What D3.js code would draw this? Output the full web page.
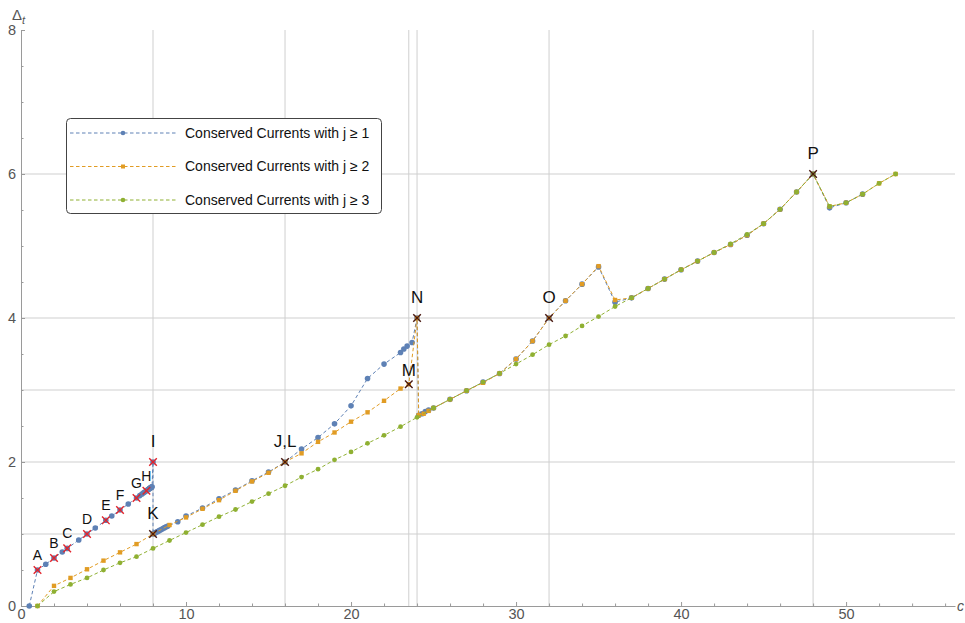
<!DOCTYPE html>
<html>
<head>
<meta charset="utf-8">
<script src="https://cdn.jsdelivr.net/npm/d3@7"></script>
<style>
  body { margin: 0; background: #fff; }
  svg { display: block; font-family: "Liberation Sans", Arial, sans-serif; }
</style>
</head>
<body>
<svg id="chart"></svg>
<script>
// Conserved currents with j >= 1 (blue)
const currentsJ1 = [
  [0.5, 0], [1, 0.5], [1.5, 0.58], [2, 0.667], [2.5, 0.75], [2.8, 0.8], [3.5, 0.917],
  [4, 1], [4.5, 1.083], [5.14, 1.19], [5.5, 1.25], [6, 1.333], [6.5, 1.417], [7, 1.5],
  [7.2, 1.533], [7.33, 1.555], [7.43, 1.572], [7.5, 1.583], [7.6, 1.6], [7.64, 1.607],
  [7.67, 1.612], [7.71, 1.618], [7.75, 1.625], [7.78, 1.63], [7.8, 1.633], [7.83, 1.638],
  [7.86, 1.643], [7.88, 1.647], [7.9, 1.65], [7.92, 1.653], [7.94, 1.657], [8, 2], [8, 1],
  [8.06, 1.008], [8.12, 1.015], [8.18, 1.023], [8.25, 1.031], [8.33, 1.041], [8.4, 1.05],
  [8.5, 1.063], [8.6, 1.075], [8.7, 1.088], [8.8, 1.1], [8.9, 1.11], [9.5, 1.17], [10, 1.25],
  [11, 1.36], [12, 1.49], [13, 1.61], [14, 1.74], [15, 1.86], [16, 2], [17, 2.18], [18, 2.34],
  [19, 2.53], [20, 2.78], [21, 3.16], [22, 3.36], [23, 3.52], [23.2, 3.57], [23.4, 3.61],
  [23.7, 3.66], [24, 4], [24.1, 2.65], [24.3, 2.67], [24.5, 2.7], [24.7, 2.72], [25, 2.75],
  [26, 2.87], [27, 2.99], [28, 3.11], [29, 3.23], [30, 3.43], [31, 3.68], [32, 4], [33, 4.24],
  [34, 4.47], [35, 4.71], [36, 4.22], [37, 4.28], [38, 4.41], [39, 4.54], [40, 4.67],
  [41, 4.79], [42, 4.91], [43, 5.02], [44, 5.15], [45, 5.31], [46, 5.51], [47, 5.75],
  [48, 6], [49, 5.53], [50, 5.6], [51, 5.72]
];

// Conserved currents with j >= 2 (orange)
const currentsJ2 = [
  [1, 0], [2, 0.28], [3, 0.39], [4, 0.51], [5, 0.63], [6, 0.745], [7, 0.86], [8, 1],
  [9, 1.125], [10, 1.23], [11, 1.35], [12, 1.47], [13, 1.6], [14, 1.73], [15, 1.85], [16, 2],
  [17, 2.12], [18, 2.28], [19, 2.41], [20, 2.56], [21, 2.69], [22, 2.85], [23, 3.02],
  [23.5, 3.08], [24, 4], [24.1, 2.65], [24.4, 2.67], [24.7, 2.71], [25, 2.75], [26, 2.87],
  [27, 2.99], [28, 3.1], [29, 3.23], [30, 3.43], [31, 3.68], [32, 4], [33, 4.24], [34, 4.47],
  [35, 4.72], [36, 4.25], [37, 4.28], [38, 4.41], [39, 4.54], [40, 4.67], [41, 4.79],
  [42, 4.91], [43, 5.02], [44, 5.15], [45, 5.31], [46, 5.51], [47, 5.75], [48, 6],
  [49, 5.55], [50, 5.6], [51, 5.72], [52, 5.87], [53, 6]
];

// Conserved currents with j >= 3 (green)
const currentsJ3 = [
  [1, 0], [2, 0.2], [3, 0.3], [4, 0.39], [5, 0.5], [6, 0.6], [7, 0.685], [8, 0.8], [9, 0.91],
  [10, 1.02], [11, 1.13], [12, 1.24], [13, 1.34], [14, 1.45], [15, 1.56], [16, 1.67],
  [17, 1.79], [18, 1.9], [19, 2.03], [20, 2.14], [21, 2.26], [22, 2.37], [23, 2.49],
  [24, 2.62], [25, 2.75], [26, 2.87], [27, 2.99], [28, 3.11], [29, 3.23], [30, 3.36],
  [31, 3.49], [32, 3.63], [33, 3.75], [34, 3.89], [35, 4.02], [36, 4.16], [37, 4.28],
  [38, 4.41], [39, 4.54], [40, 4.67], [41, 4.79], [42, 4.91], [43, 5.03], [44, 5.16],
  [45, 5.31], [46, 5.51], [47, 5.75], [48, 6], [49, 5.55], [50, 5.6], [51, 5.72],
  [52, 5.87], [53, 6]
];

const seriesNames = ["Conserved Currents with j \u2265 1", "Conserved Currents with j \u2265 2", "Conserved Currents with j \u2265 3"];

// labelled points
const labelNames = ["A", "B", "C", "D", "E", "F", "G", "H", "I", "K", "J,L", "M", "N", "O", "P"];
const labelX = [1, 2, 2.8, 4, 5.14, 6, 7, 7.6, 8, 8, 16, 23.5, 24, 32, 48];
const labelY = [0.5, 0.667, 0.8, 1, 1.19, 1.333, 1.5, 1.6, 2, 1, 2, 3.08, 4, 4, 6];

const gridX = [8, 16, 23.5, 24, 32, 48];
const gridY = [1, 2, 3, 4, 6];
const xMajor = [0, 10, 20, 30, 40, 50];
const yMajor = [0, 2, 4, 6, 8];

// layout
const width = 965, height = 623;
const colors = ["#5e81b5", "#e19c24", "#8fb032"];
const smallLabels = new Set(["A", "B", "C", "D", "E", "F", "G", "H"]);

const svg = d3.select("#chart").attr("width", width).attr("height", height);

const x = d3.scaleLinear([0, 56.6], [21, 955]);
const y = d3.scaleLinear([0, 8], [606, 30]);

// grid lines
svg.append("g").selectAll("line").data(gridX).join("line")
    .attr("x1", d => x(d)).attr("x2", d => x(d))
    .attr("y1", y(0)).attr("y2", y(8))
    .attr("stroke", "#cfcfcf").attr("stroke-width", 1);
svg.append("g").selectAll("line").data(gridY).join("line")
    .attr("x1", x(0)).attr("x2", x.range()[1])
    .attr("y1", d => y(d)).attr("y2", d => y(d))
    .attr("stroke", "#cfcfcf").attr("stroke-width", 1);

// axes
const axisColor = "#9a9a9a";
svg.append("g").attr("transform", `translate(0,${y(0)})`)
    .call(d3.axisBottom(x).tickValues(xMajor).tickSizeInner(-4).tickSizeOuter(0).tickPadding(3));
svg.append("g").attr("transform", `translate(0,${y(0)})`)
    .call(d3.axisBottom(x).tickValues(d3.range(2, 57, 2).filter(v => v % 10)).tickSizeInner(-2.5).tickSizeOuter(0).tickFormat(""))
    .call(g => g.select(".domain").remove());
svg.append("g").attr("transform", `translate(${x(0)},0)`)
    .call(d3.axisLeft(y).tickValues(yMajor).tickSizeInner(-4).tickSizeOuter(0).tickPadding(5));
svg.append("g").attr("transform", `translate(${x(0)},0)`)
    .call(d3.axisLeft(y).tickValues(d3.range(0.5, 8, 0.5).filter(v => v % 2)).tickSizeInner(-2.5).tickSizeOuter(0).tickFormat(""))
    .call(g => g.select(".domain").remove());

svg.selectAll(".domain, .tick line").attr("stroke", axisColor);
svg.selectAll(".tick text").attr("fill", "#555").attr("font-size", 14.5)
    .attr("font-family", "'Liberation Sans', Arial, sans-serif");

// axis labels
const tlab = svg.append("text").attr("x", 12).attr("y", 20).attr("font-size", 15).attr("fill", "#555");
tlab.append("tspan").text("\u0394");
tlab.append("tspan").attr("font-style", "italic").attr("font-size", 11).attr("dy", 4).text("t");
svg.append("text").attr("x", 957).attr("y", y(0) + 5).attr("font-size", 14).attr("fill", "#555")
    .attr("font-style", "italic").text("c");

// series lines + markers
const line = d3.line().x(d => x(d[0])).y(d => y(d[1]));
const allSeries = [currentsJ1, currentsJ2, currentsJ3];

allSeries.forEach((data, i) => {
  const g = svg.append("g");
  g.append("path").datum(data)
      .attr("d", line)
      .attr("fill", "none")
      .attr("stroke", colors[i])
      .attr("stroke-width", 1)
      .attr("stroke-dasharray", "3.5,2.5");
  drawMarkers(g, data, i);
});

function drawMarkers(g, data, i) {
  if (i === 0) {
    g.selectAll("circle").data(data).join("circle")
        .attr("cx", d => x(d[0])).attr("cy", d => y(d[1])).attr("r", 2.8)
        .attr("fill", colors[0]);
  } else if (i === 1) {
    g.selectAll("rect").data(data).join("rect")
        .attr("x", d => x(d[0]) - 2.2).attr("y", d => y(d[1]) - 2.2)
        .attr("width", 4.4).attr("height", 4.4)
        .attr("fill", colors[1]);
  } else {
    g.selectAll("circle").data(data).join("circle")
        .attr("cx", d => x(d[0])).attr("cy", d => y(d[1])).attr("r", 2.4)
        .attr("fill", colors[2]);
  }
}

// crosses and labels
const marks = labelNames.map((name, i) => ({name, x: labelX[i], y: labelY[i]}));
const crossSize = 3.8;
const crossG = svg.append("g");
marks.forEach(m => {
  const cx = x(m.x), cy = y(m.y);
  const red = smallLabels.has(m.name) || m.name === "I";
  crossG.append("path")
      .attr("d", `M${cx - crossSize},${cy - crossSize}L${cx + crossSize},${cy + crossSize}M${cx - crossSize},${cy + crossSize}L${cx + crossSize},${cy - crossSize}`)
      .attr("stroke", red ? "#e3242b" : "#4a1a12")
      .attr("stroke-width", 1.4)
      .attr("fill", "none");
  const small = smallLabels.has(m.name);
  const dy = small ? -15 : (m.name === "M" ? -14 : -21);
  crossG.append("text")
      .attr("x", cx).attr("y", cy + dy)
      .attr("dy", "0.35em")
      .attr("text-anchor", "middle")
      .attr("font-size", small ? 14 : 17)
      .attr("fill", "#111")
      .text(m.name);
});

// legend
const legend = svg.append("g");
legend.append("rect")
    .attr("x", 66.5).attr("y", 118.5).attr("width", 315).attr("height", 95)
    .attr("rx", 4).attr("fill", "#fff").attr("stroke", "#444").attr("stroke-width", 1);
seriesNames.forEach((name, i) => {
  const ly = 133 + i * 33.5;
  legend.append("line")
      .attr("x1", 70).attr("x2", 176).attr("y1", ly).attr("y2", ly)
      .attr("stroke", colors[i]).attr("stroke-width", 1).attr("stroke-dasharray", "3.5,2.5");
  if (i === 1) {
    legend.append("rect").attr("x", 121).attr("y", ly - 2).attr("width", 4).attr("height", 4).attr("fill", colors[i]);
  } else {
    legend.append("circle").attr("cx", 123).attr("cy", ly).attr("r", 2.3).attr("fill", colors[i]);
  }
  legend.append("text")
      .attr("x", 185).attr("y", ly).attr("dy", "0.35em")
      .attr("font-size", 14).attr("fill", "#111")
      .text(name);
});
</script>
</body>
</html>
